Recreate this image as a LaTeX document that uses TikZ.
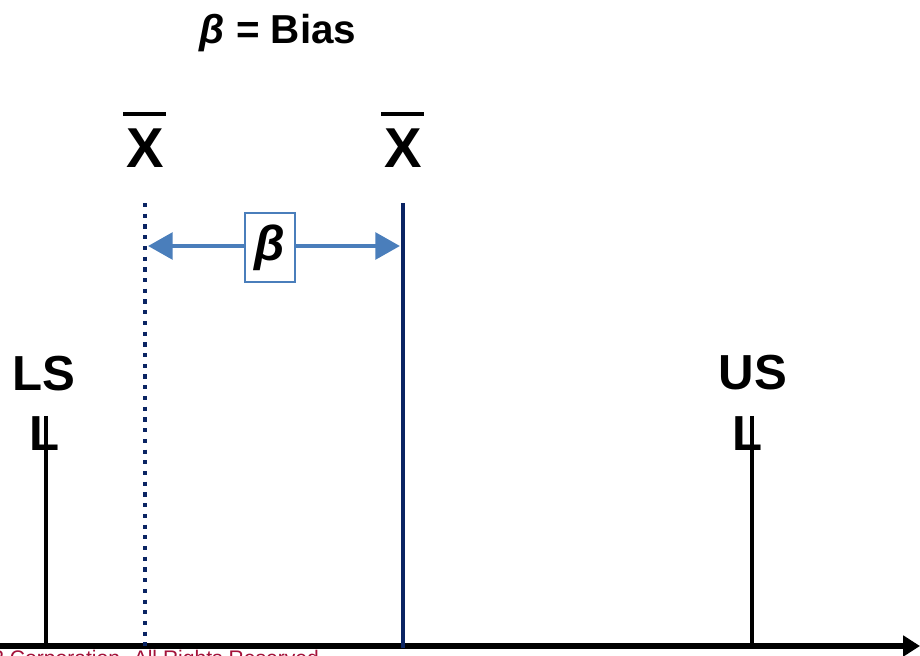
\documentclass[tikz,border=0pt]{standalone}
\usepackage{fontspec}
\setmainfont{Liberation Sans}
\usepackage{xcolor}
\usepackage{tikz}
\usetikzlibrary{arrows.meta}
\usetikzlibrary{positioning,calc}

\definecolor{meanNavy}{HTML}{0A2463}
\definecolor{biasBlue}{HTML}{4A7EBB}
\definecolor{noteRed}{HTML}{A3123A}

\begin{document}
\begin{tikzpicture}[x=0.02cm,y=-0.02cm,
        bigtext/.style={font=\fontsize{28}{32}\selectfont\bfseries, inner sep=0pt, anchor=base},
        xbartext/.style={font=\fontsize{32}{36}\selectfont\bfseries, inner sep=0pt, anchor=base},
        limitline/.style={line width=2.3pt, black},
        meanline/.style={line width=2.8pt, meanNavy},
        biasarrow/.style={line width=2.6pt, biasBlue, {Triangle[length=14pt,width=15pt]}-{Triangle[length=14pt,width=15pt]}}]
    \useasboundingbox (0,0) rectangle (920,656);
    % title
    \node[inner sep=0pt, anchor=base, font=\fontsize{23}{27}\selectfont\bfseries] (title) at (278,43)
        {\itshape β\upshape\ = Bias};
    % the two means
    \node[xbartext] (xbarold) at (145,167) {X};
    \node[xbartext] (xbarnew) at (403,167) {X};
    \draw[line width=2.2pt] ($(xbarold.north)+(-22,-14)$) -- ($(xbarold.north)+(21,-14)$);
    \draw[line width=2.2pt] ($(xbarnew.north)+(-22,-14)$) -- ($(xbarnew.north)+(21,-14)$);
    % axis
    \coordinate (axisstart) at (0,646);
    \coordinate (axisend) at (920,646);
    \draw[line width=3.4pt, -{Triangle[length=9.6pt,width=11.5pt]}] (axisstart) -- (axisend);
    % spec limits
    \node[bigtext] (lsltop) at (44,390) {LS};
    \node[bigtext] (lslL) at (45,450) {L};
    \node[bigtext] (usltop) at (753,389) {US};
    \node[bigtext] (uslL) at (748,450) {L};
    \coordinate (lslfoot) at (46,646);
    \coordinate (uslfoot) at (752,646);
    \draw[limitline] (lslL.north -| lslfoot) -- (lslfoot);
    \draw[limitline] (uslL.north -| uslfoot) -- (uslfoot);
    % old and new mean lines
    \coordinate (oldtop) at (145,203);
    \coordinate (oldfoot) at (145,646);
    \coordinate (newtop) at (403,203);
    \coordinate (newfoot) at (403,648);
    \draw[meanline, line width=2.4pt, dash pattern=on 2.4pt off 3.7pt] (oldtop) -- (oldfoot);
    \draw[meanline] (newtop) -- (newfoot);
    % bias
    \coordinate (biasleft) at (148,246);
    \coordinate (biasright) at (400,246);
    \draw[biasarrow] (biasleft) -- (biasright);
    \node[draw=biasBlue, line width=0.8pt, fill=white, minimum width=1cm, minimum height=1.38cm,
        inner sep=0pt, font=\fontsize{28}{32}\selectfont\bfseries\itshape] (biasbox) at (270,247.5) {β};
    % footer
    \node[inner sep=0pt, anchor=base west, text=noteRed, font=\fontsize{12}{14}\selectfont] (footer) at (-8,665)
        {2 Corporation. All Rights Reserved};
\end{tikzpicture}
\end{document}
